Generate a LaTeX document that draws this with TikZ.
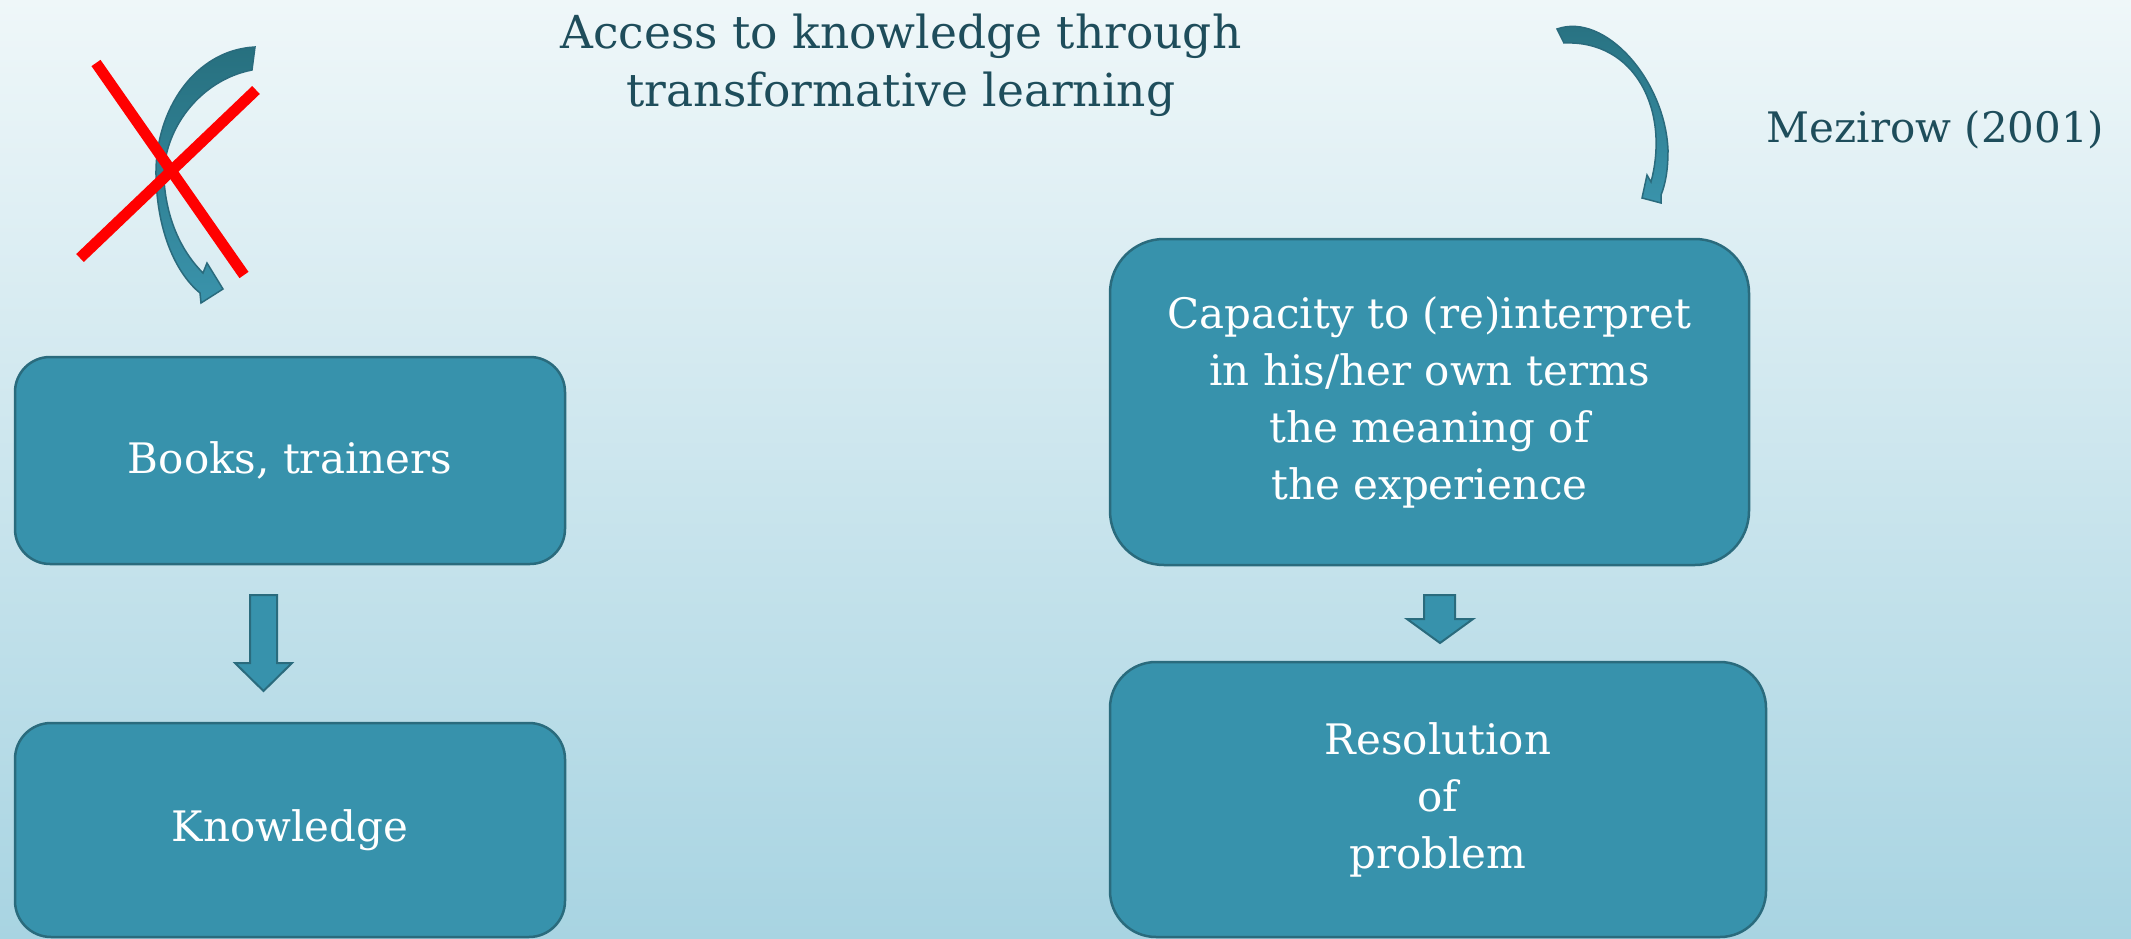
\documentclass[tikz,border=0pt]{standalone}
\usepackage{fontspec}
\setmainfont{DejaVu Serif}
\usetikzlibrary{calc}
\definecolor{bgtop}{HTML}{EFF7F9}
\definecolor{bgbot}{HTML}{A8D4E2}
\definecolor{boxfill}{HTML}{3792AC}
\definecolor{boxline}{HTML}{2A6B7D}
\definecolor{titlecol}{HTML}{1E4D5B}
\definecolor{arrtop}{HTML}{27707F}
\definecolor{arrbot}{HTML}{3A93AB}
\definecolor{xred}{HTML}{FF0000}
\begin{document}
\begin{tikzpicture}[x=1pt,y=-1pt,
  stepbox/.style={draw=boxline, line width=2.5pt, fill=boxfill, text=white, align=center,
    inner sep=0pt, font=\fontsize{42}{57}\selectfont},
  blockarrow/.style={draw=boxline, line width=2pt, fill=boxfill, line join=miter},
  curvearrow/.style={draw=boxline, line width=1.5pt, top color=arrtop, bottom color=arrbot},
  crossline/.style={draw=xred, line width=11pt},
  titletext/.style={text=titlecol, align=center, font=\fontsize{45.5}{58}\selectfont},
  reftext/.style={text=titlecol, font=\fontsize{42}{58}\selectfont}]

\useasboundingbox (0,0) rectangle (2131,939);
\fill[top color=bgtop, bottom color=bgbot] (0,0) rectangle (2131,939);

% boxes
\node[stepbox, minimum width=550, minimum height=207, rounded corners=35] (b1) at (290,460.5) {Books, trainers};
\node[stepbox, minimum width=550, minimum height=214, rounded corners=36] (b2) at (290,830) {Knowledge};
\node[stepbox, minimum width=639, minimum height=326, rounded corners=54] (b3) at (1429.5,402)
  {Capacity to (re)interpret\\in his/her own terms\\the meaning of\\the experience};
\node[stepbox, minimum width=656, minimum height=275, rounded corners=46] (b4) at (1438,799.5)
  {Resolution\\of\\problem};

% block arrows between boxes
\draw[blockarrow] (250,595) -- (277,595) -- (277,663) -- (292,663) -- (263.5,691) -- (235,663) -- (250,663) -- cycle;
\draw[blockarrow] (1424,595) -- (1455,595) -- (1455,619) -- (1473,619) -- (1440,643) -- (1407,619) -- (1424,619) -- cycle;

% title texts
\node[titletext] (title) at (901,65) {Access to knowledge through\\transformative learning};
\node[reftext] (mez) at (1935.5,130) {Mezirow (2001)};

% left curved arrow
\path[curvearrow] (255,47) .. controls (195,50) and (155,110) .. (156,175)
  .. controls (157,235) and (178,275) .. (200,293) -- (201,303) -- (223,289) -- (207,263) -- (203,273)
  .. controls (185,255) and (167,225) .. (164,180)
  .. controls (162,130) and (200,80) .. (252,70) -- cycle;

% red cross
\draw[crossline] (96,63) -- (244,275);
\draw[crossline] (256,90) -- (80,258);

% right curved arrow
\path[curvearrow] (1557,29) .. controls (1605,12) and (1665,80) .. (1668,150)
  .. controls (1668,172) and (1665,185) .. (1661,195) -- (1661,203) -- (1642,198) -- (1647,175) -- (1651,182)
  .. controls (1670,110) and (1635,40) .. (1564,43) -- cycle;
\end{tikzpicture}
\end{document}
